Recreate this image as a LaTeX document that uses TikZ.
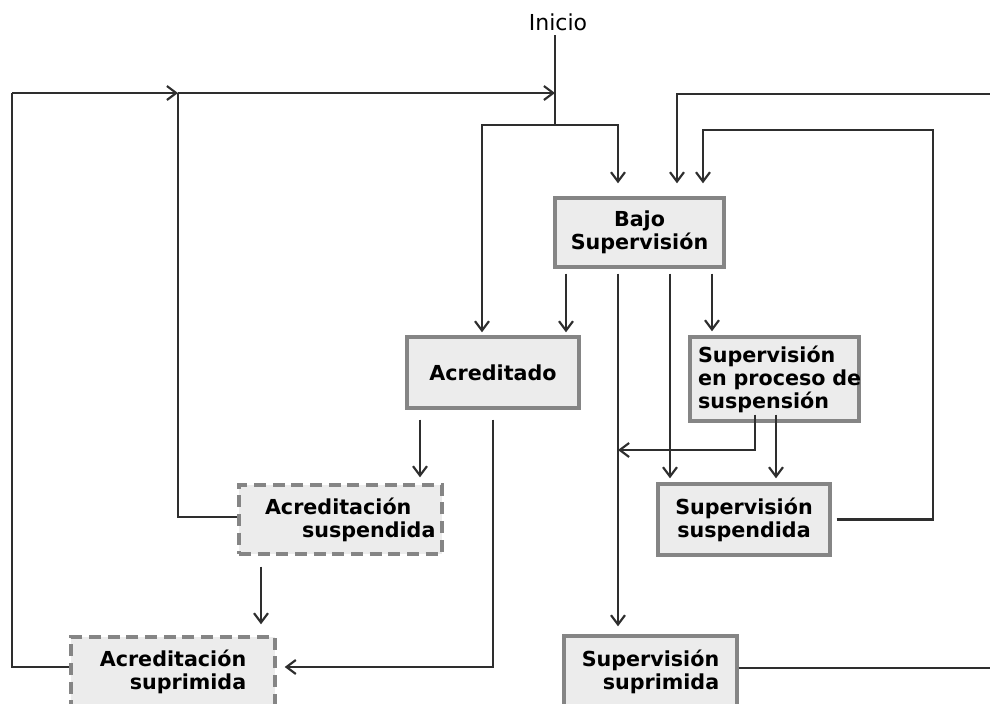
\documentclass[tikz,border=0pt]{standalone}
\usepackage{fontspec}
\setmainfont{DejaVu Sans}
\usetikzlibrary{arrows.meta,calc}
\definecolor{boxfill}{HTML}{ECECEC}
\definecolor{boxline}{HTML}{858585}
\definecolor{linecol}{HTML}{2E2E2E}
\tikzset{
  >={Straight Barb[length=7pt,width=10.5pt]},
  st/.style={rectangle, draw=boxline, fill=boxfill, line width=2.6pt, inner sep=0pt, font=\bfseries\fontsize{15.5}{17.25}\selectfont},
  stdash/.style={st, dash pattern=on 9pt off 5pt},
  tr/.style={->, draw=linecol, line width=1.6pt},
  ln/.style={draw=linecol, line width=1.6pt},
  lbl/.style={font=\fontsize{16.5}{18}\selectfont}
}
\begin{document}
\begin{tikzpicture}[x=0.75pt, y=-0.75pt]
    \useasboundingbox (0,0) rectangle (990,704);

    % States
    \node[lbl] (inicio) at (558,22) {Inicio};
    \node[st, minimum width=126.75pt, minimum height=51.75pt, align=center] (bajo) at (639.5,232.5) {Bajo\\Supervisión};
    \node[st, minimum width=129pt, minimum height=53.25pt] (acred) at (493,372.5) {Acreditado};
    \node[st, minimum height=63pt, inner xsep=6pt, text width=114.75pt, align=left] (proceso) at (774.5,379) {Supervisión\\\mbox{en proceso de}\\suspensión};
    \node[st, minimum width=129pt, minimum height=53.25pt, align=center] (ssusp) at (744,519.5) {Supervisión\\suspendida};
    \node[st, minimum width=129.75pt, minimum height=53.25pt, align=right] (ssupr) at (650.5,671.5) {Supervisión\\suprimida};
    \node[stdash, minimum height=51.75pt, inner xsep=19.5pt, text width=113.25pt, align=left] (asusp) at (340.5,519.5) {Acreditación\\\mbox{\hspace*{27.75pt}suspendida}};
    \node[stdash, minimum width=153pt, minimum height=52.5pt, align=right] (asupr) at (173,672) {Acreditación\\suprimida};

    % Junctions
    \coordinate (top) at (555,125);
    \coordinate (lt) at (12,93);
    \coordinate (mid) at (178,93);
    \coordinate (ent) at (555,93);
    \coordinate (back) at (618,450);
    \coordinate (rb) at (933,130);
    \coordinate (ra) at (995,94);

    % From Inicio
    \draw[ln] (inicio.south -| top) -- (top);
    \draw[tr] (top) -| ($(acred.north)+(-11,-3)$);
    \draw[tr] (top) -| ($(bajo.north)+(-21.5,-13)$);

    % From Bajo Supervision
    \draw[tr] ($(bajo.south)+(-73.5,5)$) -- ($(acred.north)+(73,-3)$);
    \draw[tr] ($(bajo.south)+(-21.5,5)$) -- ($(ssupr.north)+(-32.5,-8)$);
    \draw[tr] ($(bajo.south)+(30.5,5)$) -- ($(ssusp.north)+(-74,-4)$);
    \draw[tr] ($(bajo.south)+(72.5,5)$) -- ($(proceso.north)+(-62.5,-4)$);

    % From Supervision en proceso de suspension
    \draw[tr] ($(proceso.south)+(-19.5,-8)$) |- (back);
    \draw[tr] ($(proceso.south)+(1.5,-8)$) -- ($(ssusp.north)+(32,-4)$);

    % Back loops on the right
    \draw[tr] ($(ssusp.east)+(5,0)$) -| (rb) -| ($(bajo.north)+(63.5,-13)$);
    \draw[tr] ($(ssupr.east)+(0,-3.5)$) -| (ra) -| ($(bajo.north)+(37.5,-13)$);

    % From Acreditado
    \draw[tr] ($(acred.south)+(-73,10)$) -- ($(asusp.north)+(79.5,-6)$);
    \draw[tr] ($(acred.south)+(0,10)$) |- ($(asupr.east)+(8,-5)$);

    % Back loops on the left
    \draw[tr] ($(asusp.south)+(-79.5,11)$) -- ($(asupr.north)+(88,-11)$);
    \draw[ln] ($(asusp.west)+(0,-2.5)$) -| (mid);
    \draw[ln] ($(asupr.west)+(0,-5)$) -| (lt);
    \draw[tr] (lt) -- (mid);
    \draw[tr] (mid) -- (ent);
\end{tikzpicture}
\end{document}
